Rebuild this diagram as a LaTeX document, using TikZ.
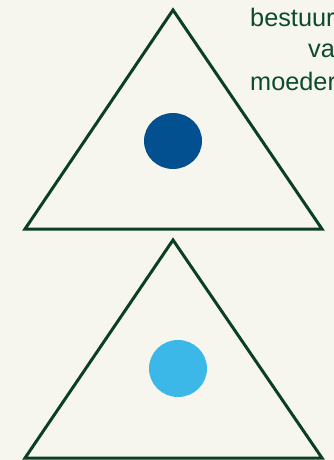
\documentclass[tikz,border=0pt]{standalone}
\usepackage{fontspec}
\setmainfont{Liberation Sans}
\definecolor{bg}{HTML}{F7F6EE}
\definecolor{dkgreen}{HTML}{0B3F22}
\definecolor{txtgreen}{HTML}{0E4A2C}
\definecolor{dkblue}{HTML}{035091}
\definecolor{ltblue}{HTML}{3BB8E8}
\begin{document}
\begin{tikzpicture}[x=1pt,y=-1pt,
  tri/.style={draw=dkgreen,line width=3pt,line join=miter},
  lbl/.style={anchor=base west,inner sep=0pt,text=txtgreen,font=\fontsize{25.3}{32}\selectfont}]
\useasboundingbox (0,0) rectangle (334,460);
\fill[bg] (0,0) rectangle (334,460);
\begin{scope}
\clip (0,0) rectangle (334,460);
% upper triangle
\draw[tri] (173,10) -- (322,229) -- (25,229) -- cycle;
\fill[dkblue] (173,141) ellipse [x radius=29, y radius=28];
% lower triangle
\draw[tri] (173,240) -- (322,458) -- (25,458) -- cycle;
\fill[ltblue] (178,368.5) ellipse [x radius=29, y radius=28.5];
% label
\node[lbl] (l1) at (250,27) {bestuur};
\node[lbl] (l2) at (308,58) {van};
\node[lbl] (l3) at (250,90.5) {moeder};
\end{scope}
\end{tikzpicture}
\end{document}
